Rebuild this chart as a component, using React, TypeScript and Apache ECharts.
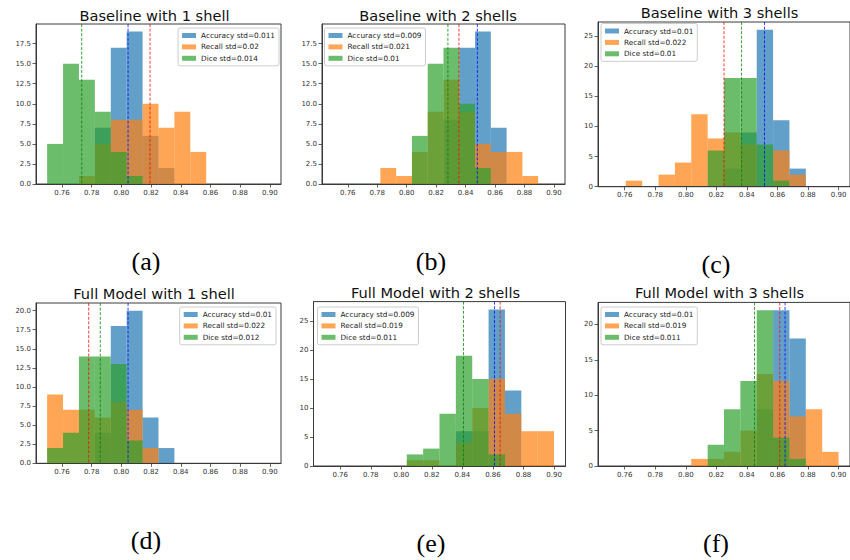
import React, { useEffect, useRef } from "react";
import * as echarts from "echarts";

// Histogram definition (matplotlib: bins over 0.75..0.90, 14 bins)
const BIN_MIN = 0.75;
const BIN_MAX = 0.9;
const BIN_COUNT = 14;

const X_TICKS = [0.76, 0.78, 0.8, 0.82, 0.84, 0.86, 0.88, 0.9];

const TITLES = [
  "Baseline with 1 shell",
  "Baseline with 2 shells",
  "Baseline with 3 shells",
  "Full Model with 1 shell",
  "Full Model with 2 shells",
  "Full Model with 3 shells",
];
const TAGS = ["(a)", "(b)", "(c)", "(d)", "(e)", "(f)"];

// counts per bin: accuracy, recall, dice
const A_ACC = [0, 0, 0, 7, 17, 19, 6, 2, 0, 0, 0, 0, 0, 0];
const A_REC = [0, 0, 1, 5, 8, 8, 10, 7, 9, 4, 0, 0, 0, 0];
const A_DICE = [5, 15, 13, 9, 4, 1, 0, 0, 0, 0, 0, 0, 0, 0];

const B_ACC = [0, 0, 0, 0, 0, 0, 0, 8, 17, 19, 7, 0, 0, 0];
const B_REC = [0, 0, 0, 2, 1, 4, 9, 13, 9, 5, 4, 4, 1, 0];
const B_DICE = [0, 0, 0, 0, 0, 6, 15, 17, 10, 2, 0, 0, 0, 0];

const C_ACC = [0, 0, 0, 0, 0, 0, 0, 3, 9, 26, 11, 3, 0, 0];
const C_REC = [0, 1, 0, 2, 4, 12, 8, 9, 7, 0, 6, 2, 0, 0];
const C_DICE = [0, 0, 0, 0, 0, 0, 6, 18, 18, 7, 1, 0, 0, 0];

const D_ACC = [0, 0, 0, 4, 18, 20, 6, 2, 0, 0, 0, 0, 0, 0];
const D_REC = [9, 7, 7, 6, 8, 7, 2, 0, 0, 0, 0, 0, 0, 0];
const D_DICE = [2, 4, 14, 14, 13, 3, 0, 0, 0, 0, 0, 0, 0, 0];

const E_ACC = [0, 0, 0, 0, 0, 0, 0, 0, 6, 6, 27, 13, 0, 0];
const E_REC = [0, 0, 0, 0, 0, 1, 1, 0, 4, 10, 15, 9, 6, 6];
const E_DICE = [0, 0, 0, 0, 0, 2, 3, 9, 19, 15, 2, 0, 0, 0];

const F_ACC = [0, 0, 0, 0, 0, 0, 0, 0, 0, 8, 22, 18, 0, 0];
const F_REC = [0, 0, 0, 0, 0, 1, 1, 2, 5, 13, 12, 7, 8, 2];
const F_DICE = [0, 0, 0, 0, 0, 0, 3, 8, 12, 22, 4, 1, 0, 0];

// mean lines (accuracy, recall, dice)
const A_MEANS = [0.8045, 0.8193, 0.7733];
const B_MEANS = [0.848, 0.8355, 0.828];
const C_MEANS = [0.8515, 0.825, 0.8365];
const D_MEANS = [0.8045, 0.778, 0.7858];
const E_MEANS = [0.861, 0.8647, 0.8407];
const F_MEANS = [0.865, 0.8615, 0.845];

const A_LEGEND = ["Accuracy std=0.011", "Recall std=0.02", "Dice std=0.014"];
const B_LEGEND = ["Accuracy std=0.009", "Recall std=0.021", "Dice std=0.01"];
const C_LEGEND = ["Accuracy std=0.01", "Recall std=0.022", "Dice std=0.01"];
const D_LEGEND = ["Accuracy std=0.01", "Recall std=0.022", "Dice std=0.012"];
const E_LEGEND = ["Accuracy std=0.009", "Recall std=0.019", "Dice std=0.011"];
const F_LEGEND = ["Accuracy std=0.01", "Recall std=0.019", "Dice std=0.011"];

const Y_TICKS_A = [0, 2.5, 5, 7.5, 10, 12.5, 15, 17.5];
const Y_TICKS_B = [0, 2.5, 5, 7.5, 10, 12.5, 15, 17.5];
const Y_TICKS_C = [0, 5, 10, 15, 20, 25];
const Y_TICKS_D = [0, 2.5, 5, 7.5, 10, 12.5, 15, 17.5, 20];
const Y_TICKS_E = [0, 5, 10, 15, 20, 25];
const Y_TICKS_F = [0, 5, 10, 15, 20];

const Y_MAX = [19.95, 19.95, 27.3, 21, 28.35, 23.1];

const PANELS = [
  { acc: A_ACC, rec: A_REC, dice: A_DICE, means: A_MEANS, legend: A_LEGEND, yTicks: Y_TICKS_A, dec: 1 },
  { acc: B_ACC, rec: B_REC, dice: B_DICE, means: B_MEANS, legend: B_LEGEND, yTicks: Y_TICKS_B, dec: 1 },
  { acc: C_ACC, rec: C_REC, dice: C_DICE, means: C_MEANS, legend: C_LEGEND, yTicks: Y_TICKS_C, dec: 0 },
  { acc: D_ACC, rec: D_REC, dice: D_DICE, means: D_MEANS, legend: D_LEGEND, yTicks: Y_TICKS_D, dec: 1 },
  { acc: E_ACC, rec: E_REC, dice: E_DICE, means: E_MEANS, legend: E_LEGEND, yTicks: Y_TICKS_E, dec: 0 },
  { acc: F_ACC, rec: F_REC, dice: F_DICE, means: F_MEANS, legend: F_LEGEND, yTicks: Y_TICKS_F, dec: 0 },
];

// layout (pixels)
const LAYOUT = [
  { left: 36, top: 24, width: 245, height: 160, tx: 154.5, ty: 15, lg: { right: 571, top: 28 }, tagX: 146, tagY: 261 },
  { left: 322, top: 24, width: 243, height: 160, tx: 438, ty: 15, lg: { left: 324.5, top: 28 }, tagX: 431, tagY: 261 },
  { left: 598, top: 22, width: 254, height: 164.7, tx: 719.5, ty: 12.5, lg: { left: 601, top: 23.5 }, tagX: 716, tagY: 264 },
  { left: 36, top: 303, width: 245, height: 160.3, tx: 154, ty: 293.5, lg: { right: 574, top: 307 }, tagX: 146, tagY: 540 },
  { left: 313.5, top: 301.6, width: 252, height: 164.4, tx: 435.5, ty: 292, lg: { left: 317.5, top: 307 }, tagX: 431, tagY: 543 },
  { left: 598, top: 302.4, width: 254, height: 163.6, tx: 719.5, ty: 292, lg: { left: 601, top: 307 }, tagX: 716, tagY: 543 },
];

const COLORS = ["#1f77b4", "#ff7f0e", "#2ca02c"];
const LINE_COLORS = ["#0000ff", "#ff0000", "#008000"];
const FONT = "DejaVu Sans";

function histData(counts: number[]) {
  const w = (BIN_MAX - BIN_MIN) / BIN_COUNT;
  return counts.map((c, i) => [BIN_MIN + i * w, BIN_MIN + (i + 1) * w, c]);
}

function buildOption() {
  const grid: any[] = [];
  const xAxis: any[] = [];
  const yAxis: any[] = [];
  const series: any[] = [];
  const legend: any[] = [];
  const graphic: any[] = [];

  PANELS.forEach((p, k) => {
    const L = LAYOUT[k];
    grid.push({
      left: L.left,
      top: L.top,
      width: L.width,
      height: L.height,
      show: true,
      borderColor: "#3a3a3a",
      borderWidth: 1,
      backgroundColor: "transparent",
    });
    xAxis.push({
      type: "value",
      gridIndex: k,
      min: BIN_MIN - 0.0075,
      max: BIN_MAX + 0.0075,
      z: 10,
      axisLine: { show: true, onZero: false, lineStyle: { color: "#3a3a3a", width: 1 } },
      axisTick: { show: true, length: 3.5, customValues: X_TICKS, lineStyle: { color: "#3a3a3a", width: 0.8 } },
      axisLabel: {
        customValues: X_TICKS,
        formatter: (v: number) => v.toFixed(2),
        fontSize: 7,
        fontFamily: FONT,
        color: "#333",
        margin: 5,
      },
      splitLine: { show: false },
    });
    yAxis.push({
      type: "value",
      gridIndex: k,
      min: 0,
      max: Y_MAX[k],
      z: 10,
      axisLine: { show: true, lineStyle: { color: "#3a3a3a", width: 1 } },
      axisTick: { show: true, length: 3.5, customValues: p.yTicks, lineStyle: { color: "#3a3a3a", width: 0.8 } },
      axisLabel: {
        customValues: p.yTicks,
        formatter: (v: number) => v.toFixed(p.dec),
        fontSize: 7,
        fontFamily: FONT,
        color: "#333",
        margin: 5,
      },
      splitLine: { show: false },
    });

    const sets = [p.acc, p.rec, p.dice];
    sets.forEach((counts, j) => {
      const color = COLORS[j];
      series.push({
        type: "custom",
        name: p.legend[j],
        xAxisIndex: k,
        yAxisIndex: k,
        z: 2 + j * 0.1,
        itemStyle: { color, opacity: 0.7 },
        encode: { x: [0, 1], y: 2 },
        data: histData(counts),
        renderItem: (params: any, api: any) => {
          const c = api.value(2);
          if (!c) return null;
          const p0 = api.coord([api.value(0), c]);
          const p1 = api.coord([api.value(1), 0]);
          return {
            type: "rect",
            shape: { x: p0[0], y: p0[1], width: p1[0] - p0[0], height: p1[1] - p0[1] },
            style: { fill: color, opacity: 0.7 },
          };
        },
      });
    });

    // mean lines
    series.push({
      type: "custom",
      name: "mean-" + k,
      xAxisIndex: k,
      yAxisIndex: k,
      z: 5,
      data: p.means.map((m, j) => [m, j]),
      encode: { x: 0 },
      renderItem: (params: any, api: any) => {
        const cs = params.coordSys;
        const x = api.coord([api.value(0), 0])[0];
        const j = api.value(1);
        return {
          type: "line",
          shape: { x1: x, y1: cs.y, x2: x, y2: cs.y + cs.height },
          style: { stroke: LINE_COLORS[j], lineWidth: 0.9, lineDash: [3, 1.6], opacity: 0.85 },
        };
      },
    });

    legend.push({
      ...L.lg,
      orient: "vertical",
      selectedMode: false,
      icon: "rect",
      itemWidth: 14,
      itemHeight: 5,
      itemGap: 2.4,
      padding: [3, 4, 3, 4],
      backgroundColor: "rgba(255,255,255,0.8)",
      borderColor: "#cccccc",
      borderWidth: 1,
      borderRadius: 2,
      textStyle: { fontSize: 7.3, fontFamily: FONT, color: "#222", lineHeight: 9 },
      data: p.legend.map((n, j) => ({ name: n, itemStyle: { color: COLORS[j], opacity: 0.7 } })),
    });

    graphic.push({
      type: "text",
      x: L.tx,
      y: L.ty,
      style: {
        text: TITLES[k],
        fontSize: 14.6,
        fontFamily: FONT,
        fill: "#111",
        align: "center",
        verticalAlign: "middle",
      },
    });
    graphic.push({
      type: "text",
      x: L.tagX,
      y: L.tagY,
      style: {
        text: TAGS[k],
        fontSize: 26,
        fontFamily: "Liberation Serif",
        fill: "#000",
        align: "center",
        verticalAlign: "middle",
      },
    });
  });

  return {
    animation: false,
    backgroundColor: "#ffffff",
    grid,
    xAxis,
    yAxis,
    series,
    legend,
    graphic,
  };
}

export default function App() {
  const ref = useRef<HTMLDivElement>(null);
  useEffect(() => {
    if (!ref.current) return;
    const chart = echarts.init(ref.current, null, { renderer: "svg" });
    chart.setOption(buildOption() as any);
    return () => chart.dispose();
  }, []);
  return (
    <div
      ref={ref}
      style={{ position: "absolute", left: 0, top: 0, width: 850, height: 560, background: "#fff" }}
    />
  );
}
